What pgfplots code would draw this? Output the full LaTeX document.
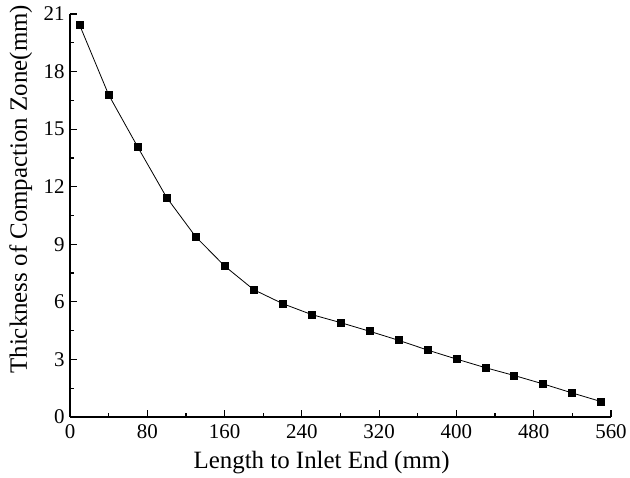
\documentclass[border=0pt]{standalone}
\usepackage{fontspec}
\setmainfont{Liberation Serif}
\usepackage{pgfplots}
\pgfplotsset{compat=1.18}

\begin{document}
\begin{tikzpicture}[x=1bp,y=1bp]
% invisible frame to fix the page at 630x477
\path (-70,-60) rectangle (560,417);
\begin{axis}[
    at={(0,0)}, anchor=origin,
    scale only axis,
    width=541bp, height=403bp,
    xmin=0, xmax=560,
    ymin=0, ymax=21,
    xtick={0,80,...,560},
    ytick={0,3,...,21},
    minor x tick num=1,
    minor y tick num=1,
    axis x line*=bottom,
    axis y line*=left,
    axis line style={-, line width=1.5bp},
    tick align=inside,
    major tick length=7bp,
    minor tick length=4bp,
    every tick/.style={black, line width=1.2bp},
    tick label style={font=\fontsize{21}{24}\selectfont},
    /pgf/number format/assume math mode=true,
    xticklabel style={yshift=-4bp},
    yticklabel style={xshift=-2bp},
    xlabel={Length to Inlet End (mm)},
    ylabel={Thickness of Compaction Zone(mm)},
    every axis x label/.style={at={(axis description cs:0.465,-0.129)}, anchor=base,
        font=\fontsize{25}{30}\selectfont},
    every axis y label/.style={at={(axis description cs:-0.0795,0.565)}, anchor=base, rotate=90,
        font=\fontsize{25}{30}\selectfont},
    clip=false,
]
\addplot[black, line width=0.8bp, mark=square*, mark size=3.5bp]
    coordinates {
    (10,20.42) (40,16.79) (70,14.08) (100,11.44) (130,9.40)
    (160,7.87) (190,6.64) (220,5.91) (250,5.34) (280,4.92)
    (310,4.47) (340,4.00) (370,3.49) (400,3.02) (430,2.57)
    (460,2.16) (490,1.72) (520,1.25) (550,0.80)
    };
\end{axis}
\end{tikzpicture}
\end{document}
